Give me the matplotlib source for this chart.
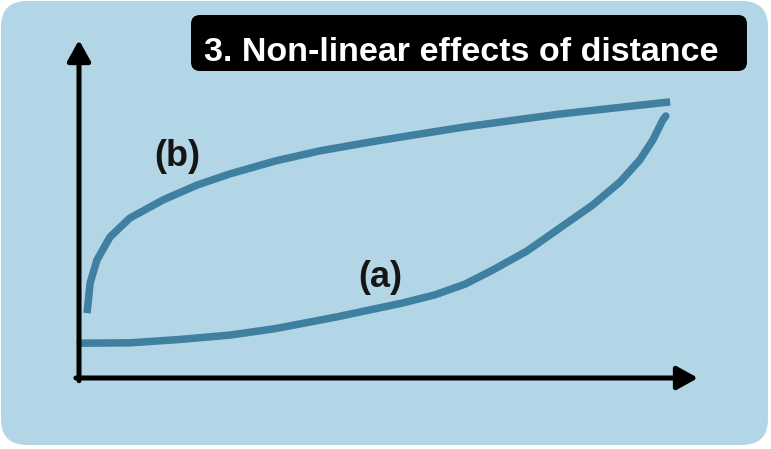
import matplotlib.pyplot as plt
from matplotlib.patches import FancyBboxPatch

# curve (a): flat at short distance, rising sharply at the end
a_x = [0.02, 0.82, 1.63, 2.44, 3.17, 4.17, 5.23, 5.75, 6.24, 6.69, 7.24,
       7.77, 8.30, 8.74, 9.06, 9.27, 9.43, 9.48]
a_y = [1.03, 1.04, 1.14, 1.27, 1.46, 1.81, 2.22, 2.46, 2.78, 3.20, 3.76,
       4.44, 5.12, 5.80, 6.45, 7.04, 7.63, 7.75]

# curve (b): steep at short distance, flattening out
b_x = [0.13, 0.18, 0.29, 0.50, 0.82, 1.36, 1.91, 2.44, 3.17, 3.89, 4.70,
       5.51, 6.24, 7.04, 7.77, 8.66, 9.55]
b_y = [1.92, 2.81, 3.49, 4.17, 4.73, 5.27, 5.71, 6.04, 6.42, 6.72, 6.98,
       7.22, 7.43, 7.63, 7.81, 7.99, 8.17]

title = "3. Non-linear effects of distance"
labels = ["(a)", "(b)"]

bg_col = '#b3d6e7'
line_col = '#3f7fa0'
fonts = ['Liberation Sans', 'DejaVu Sans']

fig = plt.figure(figsize=(7.71, 4.49), dpi=100)
fig.patch.set_facecolor('white')

# background panel in pixel units
bg = fig.add_axes([0, 0, 1, 1])
bg.set_xlim(0, 771)
bg.set_ylim(449, 0)
bg.axis('off')
bg.add_patch(FancyBboxPatch((1, 1), 767, 444,
                            boxstyle='round,pad=0,rounding_size=26',
                            fc=bg_col, ec='none'))
bg.add_patch(FancyBboxPatch((191, 15), 556, 56,
                            boxstyle='round,pad=0,rounding_size=9',
                            fc='black', ec='none'))
bg.text(461, 61, title, color='white', fontsize=24.5, fontweight='bold',
        family=fonts, ha='center', va='baseline')

# main axes, origin at the corner of the arrows
ax = fig.add_axes([79 / 771, 71 / 449, 619 / 771, 338 / 449])
ax.set_xlim(0, 10)
ax.set_ylim(0, 10)
ax.axis('off')
ax.patch.set_alpha(0)

arrow = dict(arrowstyle='-|>,head_length=0.9,head_width=0.5', lw=3.6,
             color='black', mutation_scale=14, shrinkA=0, shrinkB=0)
ax.annotate('', xy=(10, 0), xytext=(-0.05, 0), arrowprops=arrow,
            annotation_clip=False)
ax.annotate('', xy=(0, 10), xytext=(0, -0.08), arrowprops=arrow,
            annotation_clip=False)

ax.plot(a_x, a_y, color=line_col, lw=5.4, solid_capstyle='round',
        solid_joinstyle='round', clip_on=False)
ax.plot(b_x, b_y, color=line_col, lw=5.4, solid_capstyle='butt',
        solid_joinstyle='round', clip_on=False)

ax.text(4.86, 2.96, labels[0], fontsize=26, fontweight='bold', family=fonts,
        ha='center', va='center', color='#151515')
ax.text(1.58, 6.55, labels[1], fontsize=26, fontweight='bold', family=fonts,
        ha='center', va='center', color='#151515')

fig.savefig('out.png', dpi=100, facecolor='white')
